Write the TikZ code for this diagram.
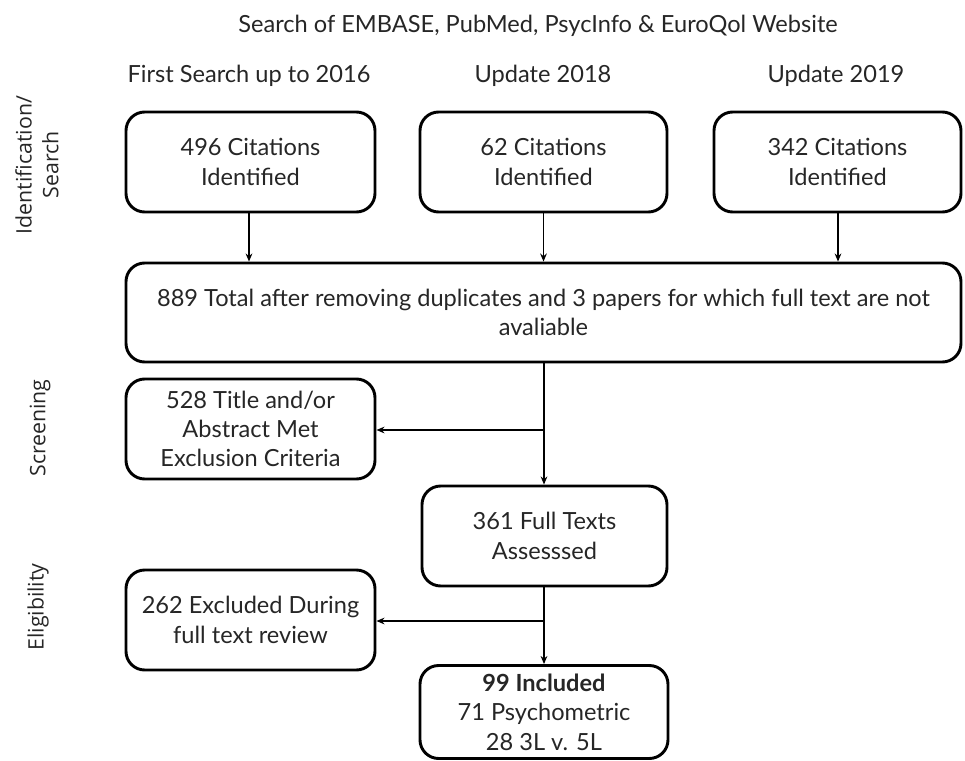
\documentclass[tikz,border=0pt]{standalone}
\usepackage{fontspec}
\setmainfont{Lato}
\newfontfamily\sidefont{Open Sans}
\usetikzlibrary{arrows.meta}
\tikzset{
  box/.style={draw, line width=2.2pt, rounded corners=14pt, align=center, inner sep=0pt,
    font=\fontsize{17.7}{22}\selectfont, text=black!85},
  arr/.style={line width=1.1pt, -{Stealth[length=6pt,width=5pt]}},
  hdr/.style={font=\fontsize{17.7}{21}\selectfont, text=black!85},
  side/.style={font=\sidefont\fontsize{16}{20}\selectfont, rotate=90, align=center, text=black!85}
}
\begin{document}
\begin{tikzpicture}[x=0.75pt,y=-0.75pt]
\useasboundingbox (0,0) rectangle (965,761);
\node[hdr] (title) at (538,26) {Search of EMBASE, PubMed, PsycInfo \& EuroQol Website};
\node[hdr] (h1) at (249,76) {First Search up to 2016};
\node[hdr] (h2) at (543,76) {Update 2018};
\node[hdr] (h3) at (836,76) {Update 2019};

\node[box, minimum width=249*0.75pt, minimum height=100*0.75pt] (b1) at (250.5,162) {496 Citations\\Identified};
\node[box, minimum width=247*0.75pt, minimum height=100*0.75pt] (b2) at (543.5,162) {62 Citations\\Identified};
\node[box, minimum width=247*0.75pt, minimum height=100*0.75pt] (b3) at (837.5,162) {342 Citations\\Identified};
\node[box, minimum width=835*0.75pt, minimum height=99*0.75pt] (big) at (543.5,312.5) {889 Total after removing duplicates and 3 papers for which full text are not\\avaliable};
\node[box, minimum width=249*0.75pt, minimum height=100*0.75pt] (scr) at (250.5,429) {528 Title and/or\\Abstract Met\\Exclusion Criteria};
\node[box, minimum width=245*0.75pt, minimum height=100*0.75pt] (full) at (544.5,536) {361 Full Texts\\Assesssed};
\node[box, minimum width=249*0.75pt, minimum height=100*0.75pt] (exc) at (250.5,620) {262 Excluded During\\full text review};
\node[box, minimum width=248*0.75pt, minimum height=93*0.75pt] (inc) at (544,712) {\textbf{99 Included}\\71 Psychometric\\28 3L v. 5L};

\node[side] (s1) at (37,165) {Identification/\\Search};
\node[side] (s2) at (40,428) {Screening};
\node[side] (s3) at (38,607) {Eligibility};

\draw[arr] (b1.south -| 249,0) -- (big.north -| 249,0);
\draw[arr] (b2.south) -- (b2.south |- big.north);
\draw[arr] (b3.south -| 838,0) -- (big.north -| 838,0);

\coordinate (j1) at (544,430);
\coordinate (j2) at (544,621);
\draw[arr] (big.south -| j1) -- (full.north -| j1);
\draw[arr] (j1) -- (j1 -| scr.east);
\draw[arr] (full.south -| j2) -- (inc.north -| j2);
\draw[arr] (j2) -- (j2 -| exc.east);
\end{tikzpicture}
\end{document}
